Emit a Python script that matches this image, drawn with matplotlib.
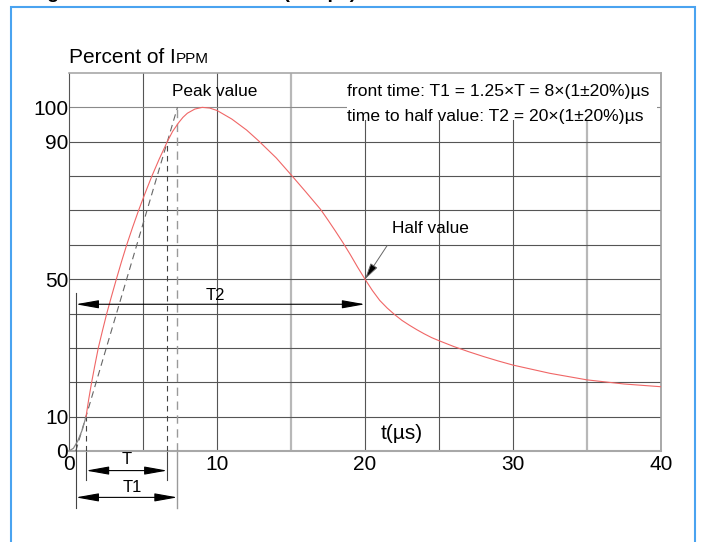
import matplotlib
matplotlib.use('Agg')
import matplotlib.pyplot as plt
from matplotlib.patches import Rectangle

plt.rcParams['font.family'] = ['Liberation Sans', 'DejaVu Sans']

# waveform (t in us, current in % of Ippm)
t_foot = [0, 0.3, 0.6, 0.9, 1.15]
i_foot = [0, 0.8, 3.0, 6.2, 10]
t_wave = [1.15, 1.33, 1.53, 1.75, 1.98, 2.26, 2.55, 2.87, 3.2, 3.54, 3.9, 4.29, 4.7,
          5.14, 5.6, 6.1, 6.64, 7.0, 7.4, 7.7, 8.0, 8.5, 9.0, 9.5, 10.0, 11.0, 12.0,
          12.8, 14.0, 15.0, 16.0, 17.0, 17.5, 18.0, 18.5, 19.0, 19.5, 20.0, 20.5,
          21.0, 21.5, 22.0, 22.5, 23.0, 23.5, 24.0, 24.5, 25.0, 26.0, 27.0, 28.0,
          29.0, 30.0, 32.5, 35.0, 37.5, 40.0]
i_wave = [10, 15, 20, 25, 30, 35, 40, 45, 50, 55, 60, 65, 70,
          75, 80, 85, 90, 93, 95.5, 97.1, 98.3, 99.5, 100, 99.8, 99.1, 96.6, 93.4,
          90.3, 85.3, 80.4, 75.4, 70.3, 67.2, 64.0, 60.7, 57.2, 53.5, 50, 46.7,
          43.8, 41.6, 39.7, 38.0, 36.6, 35.3, 34.1, 33.0, 32.1, 30.4, 28.9, 27.5,
          26.2, 25.0, 22.6, 20.7, 19.5, 18.7]

# construction points
t10, t90, t100 = 1.15, 6.64, 7.33   # 10 %, 90 % and virtual 100 % crossing
t_origin = 0.46                     # virtual origin O1
t_half = 20

x_ticks = [0, 10, 20, 30, 40]
y_ticks = [0, 10, 50, 90, 100]

fig = plt.figure(figsize=(7.02, 5.42), dpi=100)
ax = fig.add_axes([69 / 702, 91 / 542, 592 / 702, 378 / 542])
ax.set_xlim(0, 40)
ax.set_ylim(0, 110)

# grid
for x in [5, 10, 20, 25, 30]:
    ax.axvline(x, color='#555555', lw=0.8, zorder=1)
for x in [15, 35]:
    ax.axvline(x, color='#b8b8b8', lw=1.6, zorder=1)
for y in range(10, 110, 10):
    ax.axhline(y, color='#555555' if y != 100 else '#8a8a8a', lw=0.8, zorder=1)

ax.spines['left'].set_color('#555555')
ax.spines['left'].set_linewidth(0.8)
ax.spines['bottom'].set_color('#a8a8a8')
ax.spines['bottom'].set_linewidth(1.5)
ax.spines['top'].set_color('#a8a8a8')
ax.spines['top'].set_linewidth(1.2)
ax.spines['right'].set_color('#999999')
ax.spines['right'].set_linewidth(1.2)

ax.set_xticks(x_ticks)
ax.set_yticks(y_ticks)
ax.tick_params(axis='x', length=0, labelsize=15, pad=3)
ax.tick_params(axis='y', length=0, labelsize=15, pad=0.5)

# white box behind the parameter text
ax.add_patch(Rectangle((18.8, 96.4), 20.9, 13.5, fc='white', ec='none', zorder=2))
ax.text(18.78, 104.7, 'front time: T1 = 1.25×T = 8×(1±20%)µs', fontsize=12.6,
        va='center', ha='left', zorder=3)
ax.text(18.78, 97.4, 'time to half value: T2 = 20×(1±20%)µs', fontsize=12.6,
        va='center', ha='left', zorder=3)

# curve
ax.plot(t_foot, i_foot, color='#888888', lw=0.9, zorder=4)
ax.plot(t_wave, i_wave, color='#f06666', lw=0.8, zorder=4)

# construction lines
ax.plot([t_origin, t100], [0, 100], color='#666666', lw=0.8, ls=(0, (6, 4)), zorder=3)
ax.plot([t10, t10], [0, 10], color='#444444', lw=0.8, ls=(0, (5, 4)), zorder=3)
ax.plot([t90, t90], [0, 90], color='#444444', lw=0.8, ls=(0, (5, 4)), zorder=3)
ax.plot([t100, t100], [0, 100], color='#9a9a9a', lw=1.0, ls=(0, (6, 4)), zorder=3)

# extension lines below the axis
y_T, y_T1 = -5.7, -13.5
ax.plot([t10, t10], [0, -8.5], color='#444444', lw=0.8, clip_on=False)
ax.plot([t90, t90], [0, -8.5], color='#444444', lw=0.8, clip_on=False)
ax.plot([t100, t100], [0, -16.6], color='#9a9a9a', lw=1.0, clip_on=False)
ax.plot([t_origin, t_origin], [46, -16.6], color='#444444', lw=0.8, clip_on=False, zorder=3)

arrow = dict(arrowstyle='<|-|>,head_length=1.4,head_width=0.25', color='black',
             lw=0.8, mutation_scale=10, shrinkA=0, shrinkB=0)
ax.annotate('', xy=(t90, y_T), xytext=(t10, y_T), arrowprops=arrow, annotation_clip=False)
ax.annotate('', xy=(t100, y_T1), xytext=(t_origin, y_T1), arrowprops=arrow, annotation_clip=False)
ax.annotate('', xy=(t_half, 42.7), xytext=(t_origin, 42.7), arrowprops=arrow, zorder=5)

ax.text(3.9, -2.6, 'T', fontsize=12, ha='center', va='center', clip_on=False)
ax.text(4.25, -10.5, 'T1', fontsize=12, ha='center', va='center', clip_on=False)
ax.text(9.9, 45.2, 'T2', fontsize=12, ha='center', va='center', zorder=5)

ax.text(9.86, 104.7, 'Peak value', fontsize=12.4, ha='center', va='center', zorder=5)
ax.annotate('', xy=(t_half, 50), xytext=(21.5, 59.8),
            arrowprops=dict(arrowstyle='-|>,head_length=1.0,head_width=0.25',
                            fc='black', ec='#666666', lw=0.7, mutation_scale=10,
                            shrinkA=0, shrinkB=0), zorder=5)
ax.text(24.4, 64.7, 'Half value', fontsize=12.4, ha='center', va='center', zorder=5)
ax.text(22.5, 5.2, 't(µs)', fontsize=15, ha='center', va='center', zorder=5)

# axis title with small "PPM"
lab = ax.text(0, 112.8, 'Percent of I', fontsize=15, ha='left', va='baseline', clip_on=False)
fig.canvas.draw()
bb = lab.get_window_extent()
base_y = ax.transData.transform((0, 112.8))[1]
fig.text(bb.x1 / (7.02 * fig.dpi), base_y / (5.42 * fig.dpi), 'PPM', fontsize=11,
         ha='left', va='baseline')

# page frame and clipped heading
fig.patches.append(Rectangle((11 / 702, -0.02), 684 / 702, 1.02 - 7 / 542, transform=fig.transFigure,
                             fill=False, ec='#4aa3f0', lw=1.5))
fig.text(30 / 702, 1 + 2.5 / 542, 'Figure 2 Current waveform (8/20µs)', fontsize=14,
         fontweight='bold', ha='left', va='baseline')

fig.savefig('out.png', dpi=100)
